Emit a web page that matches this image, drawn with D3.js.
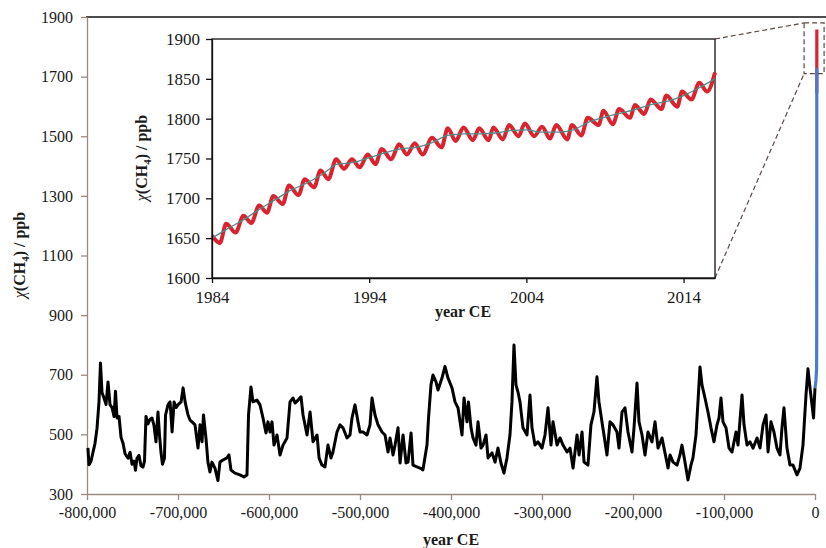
<!DOCTYPE html>
<meta charset="utf-8">
<style>
body { margin: 0; background: #fff; }
svg text { font-family: "Liberation Serif", "Times New Roman", serif; fill: #1a1a1a; }
</style>
<svg width="826" height="548"></svg>
<script src="https://cdnjs.cloudflare.com/ajax/libs/d3/7.8.5/d3.min.js"></script>
<script>

// ice core CH4, [age in ka (negative = before present), ppb]
var iceCoreKa = [
[-799,455],[-797.8,398],[-795.6,410],[-793.4,440],[-791.2,470],[-789,520],[-786.8,610],[-785.2,739],
[-783.5,640],[-781.3,622],[-779.1,600],[-776.9,676],[-774.7,600],[-772.5,590],[-770.3,560],[-768.7,645],
[-767,555],[-764.8,560],[-762.6,490],[-760.4,470],[-758.2,435],[-754.9,420],[-752.7,440],[-750.5,400],
[-748.3,410],[-746.7,380],[-745.1,420],[-742.9,430],[-740.7,395],[-738.5,390],[-736.8,410],[-735.2,560],
[-733,535],[-730.8,550],[-728.6,555],[-726.4,530],[-724.2,475],[-722,575],[-720.4,500],[-718.7,440],
[-717.1,400],[-714.9,420],[-713.7,565],[-710.9,600],[-708.7,609],[-706.5,508],[-704.3,609],[-702.1,590],
[-699.9,600],[-696.6,609],[-694.4,656],[-692.2,609],[-689,565],[-686.8,548],[-684.6,542],[-681.3,532],
[-678,454],[-675.8,532],[-673.6,475],[-672,565],[-669.3,488],[-667.1,407],[-664.9,374],[-662.7,407],
[-659.4,387],[-656.1,345],[-653.9,407],[-650.6,414],[-646.2,421],[-644,431],[-641.8,380],[-637.4,370],
[-631.9,364],[-627.5,357],[-624.2,364],[-622.5,565],[-619.8,659],[-617.6,609],[-613.2,615],[-609.9,599],
[-606.6,555],[-603.3,505],[-601.1,542],[-598.9,508],[-596.7,542],[-594.5,464],[-591.2,498],[-587.9,431],
[-584.6,464],[-580.2,488],[-576.9,609],[-573.6,622],[-571.4,605],[-568.1,615],[-564.8,626],[-562.6,565],
[-558.2,498],[-554.9,575],[-551.6,475],[-547.2,498],[-545,421],[-541.8,397],[-538.5,391],[-535.2,464],
[-531.9,421],[-529.7,441],[-525.3,508],[-522,532],[-518.7,522],[-514.3,488],[-511,498],[-508.8,555],
[-505.5,599],[-502.2,542],[-500,508],[-496.7,508],[-492.3,498],[-489,532],[-486.8,622],[-483.5,565],
[-480.2,532],[-475.8,508],[-472.5,498],[-469.2,441],[-467,488],[-463.7,431],[-461.5,464],[-458.2,522],
[-456,404],[-452.7,498],[-449.4,404],[-447.2,407],[-443.9,505],[-441.8,397],[-437.4,391],[-434.1,387],
[-430.8,381],[-426.4,464],[-424.7,555],[-422,666],[-419.8,699],[-416.5,676],[-414.3,649],[-409.9,689],
[-406.6,728],[-403.3,689],[-398.9,656],[-395.6,609],[-392.3,589],[-387.9,498],[-385.7,622],[-382.4,542],
[-380.8,609],[-378,522],[-375.8,488],[-372.5,464],[-370.3,542],[-367,454],[-364.8,464],[-361.5,498],
[-359.3,421],[-354.9,438],[-351.6,407],[-348.4,454],[-345.1,404],[-341.8,370],[-338.5,421],[-335.2,498],
[-333,609],[-330.8,800],[-328.6,666],[-326.4,642],[-324.2,609],[-320.9,522],[-316.5,498],[-313.2,632],
[-311,522],[-307.7,464],[-304.4,475],[-300,454],[-296.7,498],[-293.4,589],[-290.1,464],[-287.9,542],
[-283.5,464],[-280.2,488],[-276.9,464],[-272.5,441],[-269.2,454],[-265.9,387],[-261.5,498],[-259.3,431],
[-256,508],[-253.8,407],[-249.5,397],[-246.2,532],[-242.9,575],[-239.6,693],[-237.4,609],[-234.1,542],
[-231.9,498],[-228.6,431],[-225.3,542],[-222,532],[-217.6,508],[-215.4,454],[-212.1,575],[-208.8,589],
[-205.5,508],[-201.1,441],[-198.9,522],[-195.6,672],[-193.4,542],[-190.1,498],[-186.8,431],[-183.5,508],
[-179.1,475],[-175.8,542],[-172.5,454],[-168.1,488],[-165.9,454],[-161.5,387],[-159.3,431],[-156,407],
[-151.6,397],[-148.4,431],[-146.2,464],[-142.9,407],[-139.6,347],[-136.3,397],[-134.1,421],[-130.8,498],
[-128.6,609],[-126.4,726],[-124.2,666],[-120.9,622],[-117.6,575],[-114.3,522],[-111,475],[-107.7,532],
[-105.5,555],[-103.3,622],[-101.1,542],[-97.8,522],[-94.5,454],[-91.2,441],[-86.8,508],[-84.6,464],
[-80.2,632],[-78,532],[-74.7,464],[-71.4,475],[-68.1,454],[-63.7,488],[-60.4,454],[-57.1,532],
[-53.8,565],[-51.6,441],[-48.4,542],[-45.1,508],[-41.8,454],[-38.5,431],[-36.3,522],[-34.1,589],
[-30.8,454],[-27.5,397],[-24.2,397],[-19.8,364],[-16.5,387],[-13.2,464],[-9.9,632],[-7.7,720],
[-5.5,656],[-3.3,600],[-1.6,555],[-0.8,610],[0,655]
];

// recent rise (blue), [year CE, ppb]
var recentRise = [[0,655],[1000,680],[1750,720],[1850,800],[1900,900],[1950,1150],[1970,1450],[1984,1730]];

// NOAA monthly mean, seasonal maxima / minima [year, ppb]
var monthlyExtrema = [
[1984.0,1653],[1984.5,1644],[1984.9,1668],[1985.5,1657],[1986.0,1678],[1986.5,1669],[1987.0,1691],[1987.5,1682],
[1987.9,1703],[1988.5,1693],[1988.9,1716],[1989.5,1704],[1989.9,1724],[1990.5,1714],[1990.9,1735],[1991.4,1724],
[1991.9,1749],[1992.4,1737],[1992.9,1749],[1993.4,1739],[1993.9,1755],[1994.4,1743],[1994.8,1762],[1995.4,1749],
[1995.9,1768],[1996.4,1755],[1996.9,1769],[1997.4,1755],[1998.0,1776],[1998.6,1764],[1999.0,1788],[1999.5,1772],
[2000.0,1789],[2000.6,1773],[2001.0,1788],[2001.6,1773],[2001.9,1789],[2002.5,1774],[2002.9,1792],[2003.5,1778],
[2003.9,1794],[2004.5,1778],[2005.0,1790],[2005.5,1775],[2005.9,1792],[2006.6,1774],[2006.9,1792],[2007.5,1779],
[2007.9,1801],[2008.6,1792],[2008.9,1810],[2009.5,1793],[2009.9,1812],[2010.6,1801],[2010.9,1817],[2011.5,1806],
[2011.9,1824],[2012.6,1812],[2012.9,1829],[2013.6,1815],[2013.9,1834],[2014.5,1824],[2015.0,1845],[2015.5,1834],
[2016.0,1858]
];

// deseasonalised trend [year, ppb]
var trend = [
[1984,1650],[1985,1662],[1986,1673],[1987,1686],[1988,1698],[1989,1710],[1990,1719],[1991,1730],[1992,1743],
[1993,1745],[1994,1751],[1995,1757],[1996,1762],[1997,1764],[1998,1770],[1999,1779],[2000,1781],[2001,1781],
[2002,1782],[2003,1785],[2004,1786],[2005,1783],[2006,1783],[2007,1786],[2008,1796],[2009,1802],[2010,1807],
[2011,1812],[2012,1818],[2013,1822],[2014,1829],[2015,1839],[2016,1850]
];

var mainXTicks = [-800000,-700000,-600000,-500000,-400000,-300000,-200000,-100000,0];
var mainYTicks = [300,500,700,900,1100,1300,1500,1700,1900];
var insetXTicks = [1984,1994,2004,2014];
var insetYTicks = [1600,1650,1700,1750,1800,1850,1900];
var zoomBox = {year0: -12000, year1: 10000, ppb0: 1710, ppb1: 1880};

var svg = d3.select("svg");
var fmt = d3.format(",");
function hy(d) { return fmt(d).replace("\u2212", "-"); }
var plain = d3.format("d");

// ---- main panel
var x = d3.scaleLinear().domain([-800000, 0]).range([87, 815]);
var y = d3.scaleLinear().domain([300, 1900]).range([494, 17]);
var axisCol = "#9b8a80";

svg.append("line").attr("x1", 86).attr("x2", 826).attr("y1", 17).attr("y2", 17)
  .attr("stroke", "#111").attr("stroke-width", 1.5);

var gx = svg.append("g").attr("transform", "translate(0,494)")
  .call(d3.axisBottom(x).tickValues(mainXTicks).tickFormat(hy).tickSize(6).tickPadding(7).tickSizeOuter(0));
var gy = svg.append("g").attr("transform", "translate(87,0)")
  .call(d3.axisLeft(y).tickValues(mainYTicks).tickFormat(plain).tickSize(6).tickPadding(8).tickSizeOuter(0));
[gx, gy].forEach(function(g) {
  g.attr("font-size", 16).attr("font-family", null);
  g.selectAll("line,path").attr("stroke", axisCol).attr("stroke-width", 1.3);
  g.selectAll("text").attr("fill", "#1a1a1a");
});

var line = d3.line().x(function(d) { return x(d[0]); }).y(function(d) { return y(d[1]); });

svg.append("path").datum(iceCoreKa.map(function(d) { return [d[0] * 1000, d[1]]; }))
  .attr("d", line).attr("fill", "none").attr("stroke", "#000")
  .attr("stroke-width", 3).attr("stroke-linejoin", "round");

svg.append("path").datum(monthlyExtrema).attr("d", line)
  .attr("fill", "none").attr("stroke", "#d9232e").attr("stroke-width", 3.2);
svg.append("path").datum(recentRise).attr("d", line)
  .attr("fill", "none").attr("stroke", "#4a7cc9").attr("stroke-width", 3.2);

svg.append("text").attr("x", 451).attr("y", 545).attr("text-anchor", "middle")
  .attr("font-size", 16).attr("font-weight", "bold").text("year CE");

function yLabel(g, cx, cy) {
  var t = g.append("text").attr("transform", "translate(" + cx + "," + cy + ") rotate(-90)")
    .attr("text-anchor", "middle").attr("font-size", 16).attr("font-weight", "bold");
  t.append("tspan").attr("font-style", "italic").attr("font-weight", "normal").text("\u03c7");
  t.append("tspan").text("(CH");
  t.append("tspan").attr("font-size", 11).attr("dy", 4).text("4");
  t.append("tspan").attr("dy", -4).text(") / ppb");
}
yLabel(svg, 25, 255);

// ---- zoom box + connectors
var bx0 = x(zoomBox.year0), bx1 = x(zoomBox.year1), by0 = y(zoomBox.ppb1), by1 = y(zoomBox.ppb0);
var dash = "5,3", dashCol = "#5a4a44";
svg.append("rect").attr("x", bx0).attr("y", by0).attr("width", bx1 - bx0).attr("height", by1 - by0)
  .attr("fill", "none").attr("stroke", dashCol).attr("stroke-dasharray", dash).attr("stroke-width", 1.2);

// ---- inset
var ix = d3.scaleLinear().domain([1984, 2016]).range([212, 715]);
var iy = d3.scaleLinear().domain([1600, 1900]).range([278, 39]);

svg.append("line").attr("x1", ix(2016)).attr("y1", iy(1900)).attr("x2", bx0).attr("y2", by0)
  .attr("stroke", dashCol).attr("stroke-dasharray", dash).attr("stroke-width", 1.2);
svg.append("line").attr("x1", ix(2016)).attr("y1", iy(1600)).attr("x2", bx0).attr("y2", by1)
  .attr("stroke", dashCol).attr("stroke-dasharray", dash).attr("stroke-width", 1.2);

var inset = svg.append("g");
inset.append("rect").attr("x", 212).attr("y", 39).attr("width", 503).attr("height", 239)
  .attr("fill", "#fff").attr("stroke", "#111").attr("stroke-width", 1.3);

var ilineCurve = d3.line().curve(d3.curveMonotoneX)
  .x(function(d) { return ix(d[0]); }).y(function(d) { return iy(d[1]); });
inset.append("path").datum(monthlyExtrema).attr("d", ilineCurve)
  .attr("fill", "none").attr("stroke", "#d9232e").attr("stroke-width", 4);
inset.append("path").datum(trend).attr("d", ilineCurve)
  .attr("fill", "none").attr("stroke", "#4f8d8a").attr("stroke-width", 1.3);

var igx = inset.append("g").attr("transform", "translate(0,278)")
  .call(d3.axisBottom(ix).tickValues(insetXTicks).tickFormat(plain).tickSize(5).tickPadding(8).tickSizeOuter(0));
var igy = inset.append("g").attr("transform", "translate(212,0)")
  .call(d3.axisLeft(iy).tickValues(insetYTicks).tickFormat(plain).tickSize(6).tickPadding(6).tickSizeOuter(0));
[igx, igy].forEach(function(g) {
  g.attr("font-size", 17).attr("font-family", null);
  g.selectAll("line,path").attr("stroke", "#111").attr("stroke-width", 1.3);
  g.selectAll("text").attr("fill", "#1a1a1a");
});

inset.append("text").attr("x", 463).attr("y", 317).attr("text-anchor", "middle")
  .attr("font-size", 16).attr("font-weight", "bold").text("year CE");
yLabel(inset, 147, 158);

</script>
